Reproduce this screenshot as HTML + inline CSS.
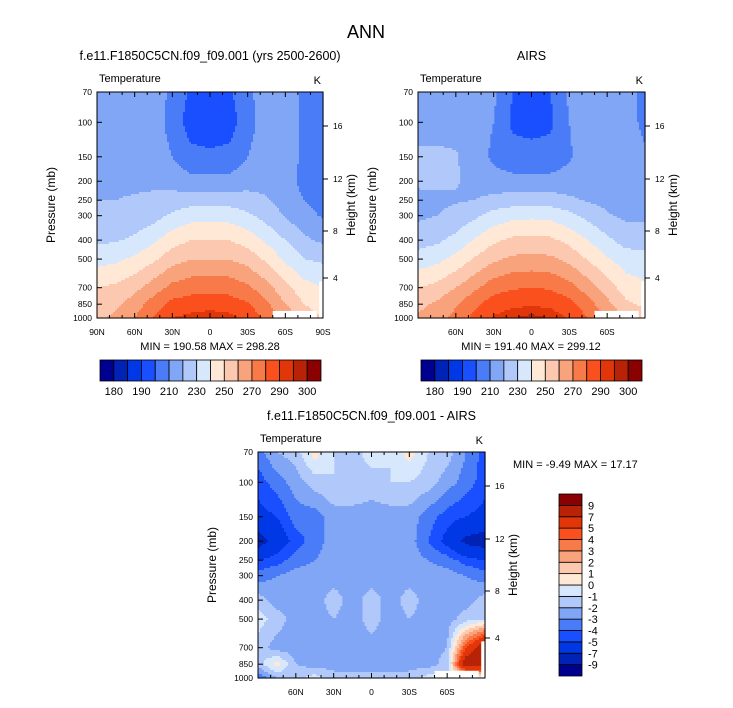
<!DOCTYPE html>
<html><head><meta charset="utf-8"><style>
body{margin:0;background:#fff;font-family:"Liberation Sans",sans-serif}
svg text{font-family:"Liberation Sans",sans-serif;fill:#000}
</style></head><body>
<svg id="fig" width="733" height="703" viewBox="0 0 733 703" xmlns="http://www.w3.org/2000/svg">
<rect width="733" height="703" fill="#fff"/>
<text x="366" y="38" font-size="18" text-anchor="middle">ANN</text>
<g id="p1"></g>
<g id="p2"></g>
<g id="p3"></g>
</svg>
<script>
const pressureLevels=[70,100,150,200,250,300,400,500,700,850,1000];
const latitudes=[90,75,60,45,30,15,0,-15,-30,-45,-60,-75,-90];
const tempLevels=[180,185,190,200,210,220,230,240,250,260,270,280,290,295,300];
const diffLevels=[-9,-7,-5,-4,-3,-2,-1,0,1,2,3,4,5,7,9];
const tempTickLabels=["180","190","210","230","250","270","290","300"];
const modelField=[
[215,215,215,215,208,198,196,198,208,215,215,208,206],
[216,216,216,215,206,195,194,195,206,215,215,208,205],
[217,217,217,216,210,203,202,203,210,216,215,208,205],
[218,218,218,218,216,213,213,213,216,217,214,207,205],
[220,220,221,222,224,226,226,226,224,221,216,210,207],
[222,222,223,226,232,236,236,236,232,226,219,213,209],
[228,229,232,238,246,250,250,250,246,238,230,222,218],
[236,238,242,248,256,260,260,260,256,248,238,230,228],
[250,252,257,265,273,276,277,276,272,264,253,244,240],
[254,258,265,275,283,285,286,285,281,272,260,250,245],
[258,262,270,281,290,293,295,293,287,278,268,255,250]];
const airsField=[
[215,215,215,215,212,200,197,200,212,215,215,215,207],
[216,216,216,215,210,198,197,198,210,215,215,215,207],
[222,222,221,215,208,204,203,204,209,215,215,215,212],
[222,222,221,216,214,213,213,213,214,215,215,215,214],
[217,218,219,220,223,225,226,225,222,219,217,216,215],
[218,220,223,228,234,237,238,237,233,227,221,218,218],
[226,228,233,241,248,252,253,252,247,240,232,226,225],
[234,237,243,251,258,262,263,262,257,249,241,235,234],
[250,253,260,268,276,279,280,279,274,265,255,245,242],
[257,262,269,278,285,288,289,288,283,274,263,252,248],
[262,266,273,283,291,295,297,295,289,280,270,258,255]];
const diffField=[
[-3.5,-2,-1.5,0.5,-1,-1.5,-0.5,-1,0.5,-1,-1.5,-3,-4.5],
[-4.5,-3.5,-2.5,-1.5,-1,-1,-1.5,-1,-1,-1.5,-2.5,-3.5,-4.5],
[-5.5,-5,-3.5,-3.5,-2.5,-2.5,-2.5,-2.5,-2.5,-3.5,-4.5,-5,-5.5],
[-8,-6,-4.5,-3.5,-2.5,-2.5,-2.5,-2.5,-2.5,-4,-5.5,-7.5,-8],
[-5,-4.5,-3.5,-3,-2.5,-2.5,-2.5,-2.5,-2.5,-3,-3.5,-4.5,-5],
[-3.5,-3,-2.5,-2.5,-2.5,-2.5,-2.5,-2.5,-2.5,-2.5,-2.5,-3,-3.5],
[-1.5,-2.5,-2.5,-2.5,-1.5,-2.5,-1.5,-2.5,-1.5,-2.5,-2.5,-2.5,-1.5],
[-0.5,-1.5,-2.5,-2.5,-2,-2.5,-1.5,-2.5,-2,-2.5,-2.5,-1.5,-1],
[-1.5,-2.5,-2.5,-3,-2.5,-2.5,-2.5,-2.5,-2.5,-2.5,-2,5,9],
[-1.5,0.5,-2,-2.5,-2.5,-2.5,-2.5,-2.5,-2.5,-2.5,-1.5,9,9],
[-4,-2,-1.5,-0.5,-1.5,-1.5,-1.5,-1.5,-1.5,-0.5,-1,-1,-1]];
const palette=["#000090","#0022b5","#0038e5","#1a4fff","#4a7cf7","#80a6f5","#b0c8fa","#d8e8fc","#ffe8d6","#fdc8b0","#f8a37c","#f87a48","#fa501e","#e0360a","#b82206","#8b0000"];
const NS="http://www.w3.org/2000/svg";
function mk(tag,attrs,parent,txt){const e=document.createElementNS(NS,tag);for(const k in attrs)e.setAttribute(k,attrs[k]);if(txt!==undefined)e.textContent=txt;parent.appendChild(e);return e;}
function colorIdx(v,lv){let i=0;while(i<lv.length&&v>=lv[i])i++;return i;}
function sample(field,lat,p){
  let fi=(90-lat)/15; fi=Math.max(0,Math.min(12,fi));
  const lp=Math.log(p);let j=0;
  while(j<pressureLevels.length-2&&lp>Math.log(pressureLevels[j+1]))j++;
  let fj=(lp-Math.log(pressureLevels[j]))/(Math.log(pressureLevels[j+1])-Math.log(pressureLevels[j]));
  fj=Math.max(0,Math.min(1,fj));
  const i0=Math.min(11,Math.floor(fi)),ti=fi-i0;
  const a=field[j][i0]*(1-ti)+field[j][i0+1]*ti;
  const b=field[j+1][i0]*(1-ti)+field[j+1][i0+1]*ti;
  return a*(1-fj)+b*fj;
}
function drawPanel(g,opt){
  const X0=opt.x,Y0=92,W=opt.w,H=226;
  const xs=lat=>X0+(90-lat)/180*W;
  const ys=p=>Y0+Math.log(p/70)/Math.log(1000/70)*H;
  const N=113,M=113,cw=W/N,ch=H/M;
  const fg=mk('g',{},g);
  
  
  for(let r=0;r<M;r++){
    const p=70*Math.pow(1000/70,(r+0.5)/M);
    let start=0,cur=-1;
    for(let c=0;c<=N;c++){
      let ci=-2;
      if(c<N){const lat=90-(c+0.5)/N*180;ci=colorIdx(sample(opt.field,lat,p),opt.levels);}
      if(ci!==cur){
        if(cur>=0){mk('rect',{x:(X0+start*cw).toFixed(2),y:(Y0+r*ch).toFixed(2),width:((c-start)*cw+0.6).toFixed(2),height:(ch+0.6).toFixed(2),fill:palette[cur]},fg);}
        start=c;cur=ci;
      }
    }
  }
  const m1=mk('rect',{x:xs(-50),y:ys(920),width:xs(-85)-xs(-50),height:ys(1000)-ys(920)+0.5,fill:'#fff'},g);
  
  
  mk('rect',{x:xs(-87),y:ys(650),width:X0+W-xs(-87),height:ys(1000)-ys(650)+0.5,fill:'#fff'},g);
  const fr=mk('rect',{x:X0,y:Y0,width:W,height:H,fill:'none',stroke:'#000','stroke-width':1},g);
  
  
  pressureLevels.forEach(p=>{
    const y=ys(p);
    mk('line',{x1:X0,x2:X0+5,y1:y,y2:y,stroke:'#000'},g);
    const t=mk('text',{x:X0-5,y:y+3,'font-size':8.5,'text-anchor':'end'},g,String(p));
    
    
  });
  [[16,34],[12,87],[8,139],[4,186]].forEach(([km,off])=>{
    const y=Y0+off;
    mk('line',{x1:X0+W,x2:X0+W+5,y1:y,y2:y,stroke:'#000'},g);
    const t=mk('text',{x:X0+W+10,y:y+3,'font-size':8.5},g,String(km));
    
    
  });
  for(let lat=90;lat>=-90;lat-=10){
    const x=xs(lat),major=lat%30===0,len=major?5:3;
    mk('line',{x1:x,x2:x,y1:Y0,y2:Y0+len,stroke:'#000'},g);
    mk('line',{x1:x,x2:x,y1:Y0+H,y2:Y0+H-len,stroke:'#000'},g);
  }
  opt.xlabels.forEach(([lat,s])=>{
    const t=mk('text',{x:xs(lat),y:Y0+H+17,'font-size':8.5,'text-anchor':'middle'},g,s);
    
    
  });
  let t;
  t=mk('text',{x:X0+W/2,y:60,'font-size':12.5,'text-anchor':'middle'},g,opt.title);
  
  t=mk('text',{x:X0+2,y:Y0-10,'font-size':11},g,'Temperature');
  
  t=mk('text',{x:X0+W-2,y:Y0-8,'font-size':11,'text-anchor':'end'},g,'K');
  
  t=mk('text',{x:X0-42,y:Y0+H/2,'font-size':12,'text-anchor':'middle',transform:`rotate(-90 ${X0-42} ${Y0+H/2})`},g,'Pressure (mb)');
  
  t=mk('text',{x:X0+W+32,y:Y0+H/2,'font-size':12,'text-anchor':'middle',transform:`rotate(-90 ${X0+W+32} ${Y0+H/2})`},g,'Height (km)');
  
}
const allLabels=[[90,'90N'],[60,'60N'],[30,'30N'],[0,'0'],[-30,'30S'],[-60,'60S'],[-90,'90S']];
const innerLabels=[[60,'60N'],[30,'30N'],[0,'0'],[-30,'30S'],[-60,'60S']];
const g1=document.getElementById('p1'),g2=document.getElementById('p2'),g3=document.getElementById('p3');
drawPanel(g1,{x:97,w:226,field:modelField,levels:tempLevels,title:'f.e11.F1850C5CN.f09_f09.001 (yrs 2500-2600)',xlabels:allLabels});
drawPanel(g2,{x:418,w:227,field:airsField,levels:tempLevels,title:'AIRS',xlabels:innerLabels});
drawPanel(g3,{x:258,w:227,field:diffField,levels:diffLevels,title:'f.e11.F1850C5CN.f09_f09.001 - AIRS',xlabels:innerLabels});
g3.setAttribute('transform','translate(0 360)');
function txt(g,x,y,s,name,anchor){const t=mk('text',{x:x,y:y,'font-size':11,'text-anchor':anchor||'middle'},g,s);return t;}
txt(g1,210,350,'MIN = 190.58  MAX = 298.28','min-max-label');
txt(g2,531,350,'MIN = 191.40  MAX = 299.12','min-max-label');
txt(document.getElementById('fig'),513,468,'MIN =  -9.49  MAX =  17.17','min-max-label','start');
function hbar(g,x0){
  const w=221/16;
  palette.forEach((c,i)=>{const r=mk('rect',{x:x0+i*w,y:360,width:w,height:21,fill:c,stroke:'#000','stroke-width':0.8},g);});
  tempTickLabels.forEach((s,k)=>{txt(g,x0+(2*k+1)*w,395,s,'colorbar-label');});
}
hbar(g1,100);hbar(g2,421);
(function(){
  const g=document.getElementById('fig');const y0=494,h=182/16;
  palette.forEach((c,i)=>{const r=mk('rect',{x:559,y:y0+(15-i)*h,width:23,height:h,fill:c,stroke:'#000','stroke-width':0.8},g);});
  diffLevels.forEach((v,i)=>{txt(g,588,y0+(15-i)*h+4,String(v),'diff-colorbar-label','start');});
})();
</script>
</body></html>
